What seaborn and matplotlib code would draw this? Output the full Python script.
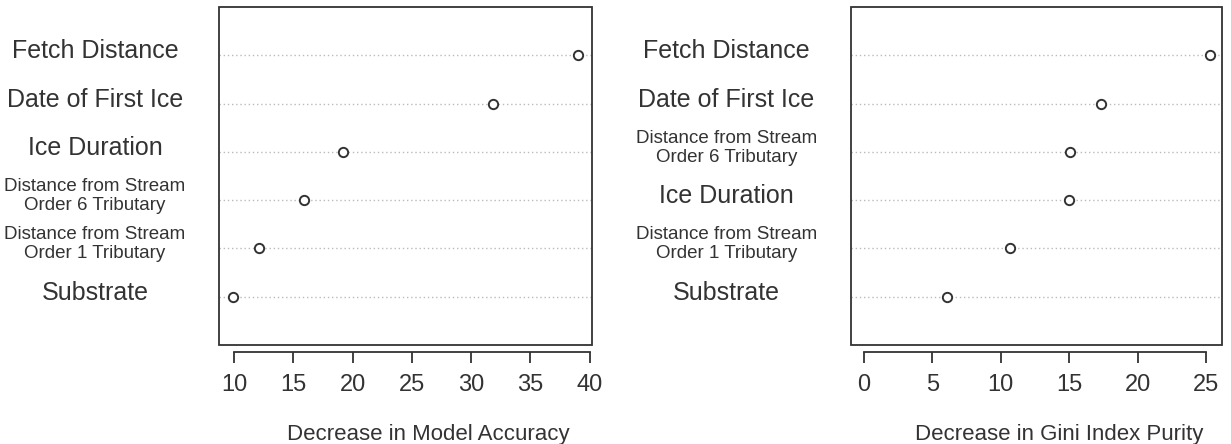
import matplotlib
matplotlib.use("Agg")
import matplotlib.pyplot as plt
import seaborn as sns
import pandas as pd
from matplotlib.patches import Rectangle
from matplotlib.transforms import offset_copy

sns.set_theme(style="white")
plt.rcParams['font.family'] = ['Liberation Sans', 'DejaVu Sans']

labels_left = ["Fetch Distance", "Date of First Ice", "Ice Duration",
               "Distance from Stream\nOrder 6 Tributary",
               "Distance from Stream\nOrder 1 Tributary", "Substrate"]
values_left = [39.0, 31.8, 19.2, 15.9, 12.1, 9.9]
labels_right = ["Fetch Distance", "Date of First Ice",
                "Distance from Stream\nOrder 6 Tributary", "Ice Duration",
                "Distance from Stream\nOrder 1 Tributary", "Substrate"]
values_right = [25.3, 17.3, 15.05, 14.95, 10.7, 6.1]
ticks_left = [10, 15, 20, 25, 30, 35, 40]
ticks_right = [0, 5, 10, 15, 20, 25]

fig = plt.figure(figsize=(12.31, 4.44), dpi=100)
ax1 = fig.add_axes([0.178, 0.223, 0.303, 0.761])
ax2 = fig.add_axes([0.691, 0.223, 0.302, 0.761])

txt = "#333333"
def panel(ax, labels, values, ticks, xlim, xlabel):
    df = pd.DataFrame({"label": labels, "value": values, "row": list(range(1, len(labels) + 1))})
    for r in df["row"]:
        ax.axhline(r, color="#bbbbbb", lw=1.0, ls=(0, (1, 2)), zorder=1)
    sns.scatterplot(data=df, x="value", y="row", ax=ax, marker="o", s=45,
                    facecolor="white", edgecolor="#333333", linewidth=1.4, zorder=3)
    ax.set_xlim(*xlim)
    ax.set_ylim(7, 0)
    ax.set_yticks([])
    ax.set_ylabel("")
    for sp in ["top", "left", "right"]:
        ax.spines[sp].set_visible(False)
    ax.add_patch(Rectangle((0, 0), 1, 1, transform=ax.transAxes, fill=False,
                           ec="#333333", lw=1.3, clip_on=False, zorder=5))
    ax.spines["bottom"].set_position(("outward", 5))
    ax.spines["bottom"].set_bounds(ticks[0], ticks[-1])
    ax.spines["bottom"].set_color("#333333")
    ax.spines["bottom"].set_linewidth(1.3)
    ax.set_xticks(ticks)
    ax.set_xticklabels([str(t) for t in ticks])
    ax.tick_params(axis="x", bottom=True, length=8, width=1.3, color="#333333",
                   labelsize=17, labelcolor=txt, pad=8)
    ax.set_xlabel(xlabel, fontsize=16, color=txt)
    ax.xaxis.set_label_coords(0.5 + 0.06, -0.235)
    trans = offset_copy(ax.get_yaxis_transform(), fig=fig, x=-124, y=4, units="dots")
    for lab, r in zip(labels, df["row"]):
        fs = 13.5 if "\n" in lab else 18
        ax.text(0, r, lab, transform=trans, ha="center", va="center",
                fontsize=fs, color=txt, linespacing=1.15)

panel(ax1, labels_left, values_left, ticks_left, (8.74, 40.2), "Decrease in Model Accuracy")
panel(ax2, labels_right, values_right, ticks_right, (-0.98, 26.2), "Decrease in Gini Index Purity")

fig.savefig("out.png", dpi=100)
